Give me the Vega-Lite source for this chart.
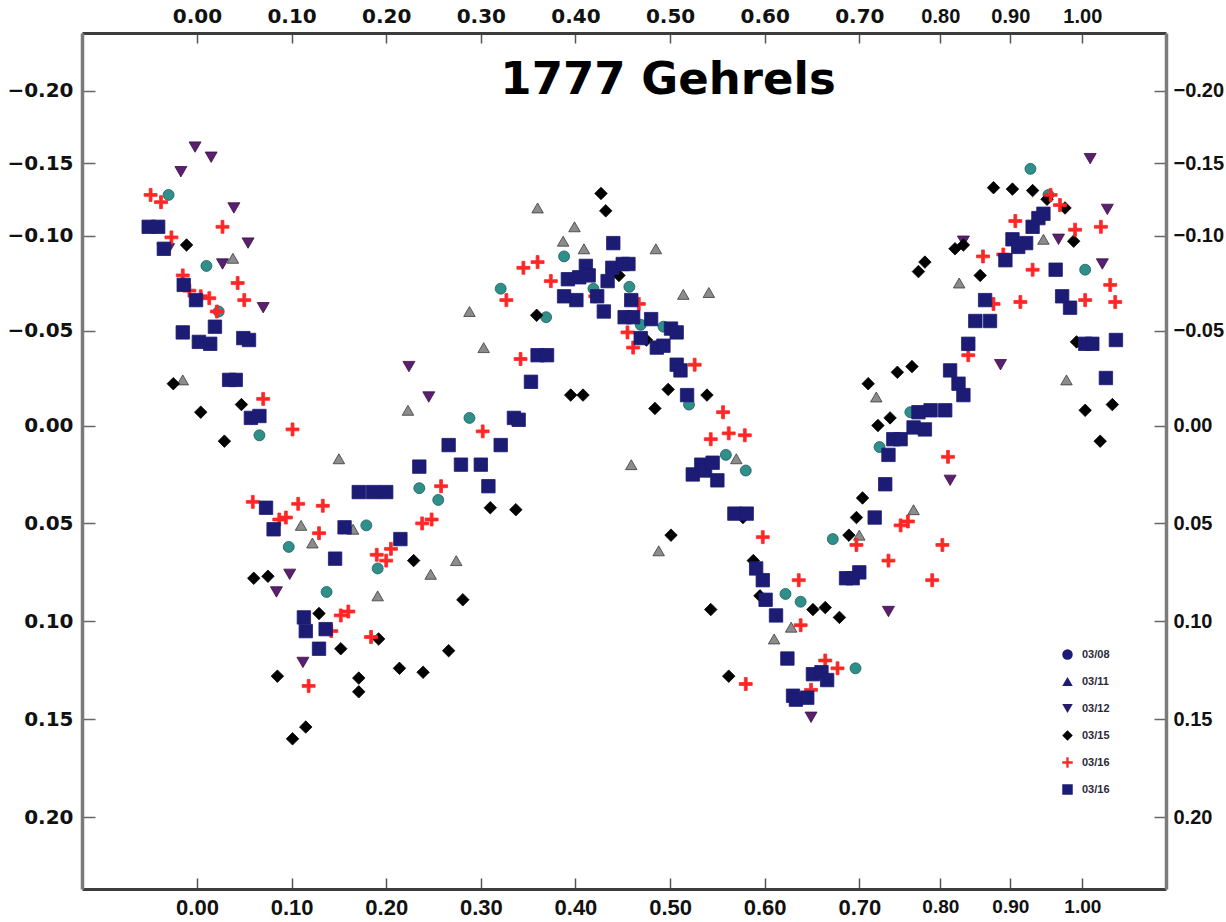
{
"$schema":"https://vega.github.io/schema/vega-lite/v6.json",
"autosize":"none",
"width":1084,"height":856,
"padding":{"left":82,"top":33,"right":60,"bottom":33},
"background":"white",
"config":{"view":{"stroke":null}},
"title":{"text":"1777 Gehrels","font":"DejaVu Sans","fontWeight":"bold","fontSize":45,"color":"#000","anchor":"middle","frame":"group","dx":44,"offset":-97},
"datasets":{"pts":[
{"night":"03/08","phase":-0.030,"mag":-0.128},{"night":"03/08","phase":0.010,"mag":-0.084},{"night":"03/08","phase":0.023,"mag":-0.060},{"night":"03/08","phase":0.066,"mag":0.005},{"night":"03/08","phase":0.097,"mag":0.062},{"night":"03/08","phase":0.137,"mag":0.085},{"night":"03/08","phase":0.179,"mag":0.051},{"night":"03/08","phase":0.191,"mag":0.073},{"night":"03/08","phase":0.235,"mag":0.032},{"night":"03/08","phase":0.255,"mag":0.038},{"night":"03/08","phase":0.288,"mag":-0.004},{"night":"03/08","phase":0.321,"mag":-0.072},{"night":"03/08","phase":0.369,"mag":-0.057},{"night":"03/08","phase":0.388,"mag":-0.089},{"night":"03/08","phase":0.419,"mag":-0.072},{"night":"03/08","phase":0.457,"mag":-0.073},{"night":"03/08","phase":0.469,"mag":-0.053},{"night":"03/08","phase":0.493,"mag":-0.052},{"night":"03/08","phase":0.520,"mag":-0.011},{"night":"03/08","phase":0.559,"mag":0.015},{"night":"03/08","phase":0.580,"mag":0.023},{"night":"03/08","phase":0.622,"mag":0.086},{"night":"03/08","phase":0.638,"mag":0.090},{"night":"03/08","phase":0.672,"mag":0.058},{"night":"03/08","phase":0.696,"mag":0.124},{"night":"03/08","phase":0.725,"mag":0.011},{"night":"03/08","phase":0.763,"mag":-0.007},{"night":"03/08","phase":0.928,"mag":-0.146},{"night":"03/08","phase":0.953,"mag":-0.128},{"night":"03/08","phase":1.004,"mag":-0.082},
{"night":"03/11","phase":-0.015,"mag":-0.024},{"night":"03/11","phase":0.038,"mag":-0.088},{"night":"03/11","phase":0.110,"mag":0.051},{"night":"03/11","phase":0.122,"mag":0.060},{"night":"03/11","phase":0.150,"mag":0.017},{"night":"03/11","phase":0.165,"mag":0.053},{"night":"03/11","phase":0.191,"mag":0.087},{"night":"03/11","phase":0.223,"mag":-0.008},{"night":"03/11","phase":0.247,"mag":0.076},{"night":"03/11","phase":0.274,"mag":0.069},{"night":"03/11","phase":0.288,"mag":-0.060},{"night":"03/11","phase":0.303,"mag":-0.041},{"night":"03/11","phase":0.360,"mag":-0.119},{"night":"03/11","phase":0.387,"mag":-0.097},{"night":"03/11","phase":0.399,"mag":-0.106},{"night":"03/11","phase":0.409,"mag":-0.093},{"night":"03/11","phase":0.459,"mag":0.020},{"night":"03/11","phase":0.485,"mag":-0.093},{"night":"03/11","phase":0.488,"mag":0.064},{"night":"03/11","phase":0.514,"mag":-0.069},{"night":"03/11","phase":0.541,"mag":-0.070},{"night":"03/11","phase":0.570,"mag":0.017},{"night":"03/11","phase":0.610,"mag":0.109},{"night":"03/11","phase":0.628,"mag":0.103},{"night":"03/11","phase":0.700,"mag":0.056},{"night":"03/11","phase":0.721,"mag":-0.015},{"night":"03/11","phase":0.767,"mag":0.043},{"night":"03/11","phase":0.827,"mag":-0.075},{"night":"03/11","phase":0.946,"mag":-0.098},{"night":"03/11","phase":0.978,"mag":-0.024},
{"night":"03/12","phase":-0.036,"mag":-0.093},{"night":"03/12","phase":-0.030,"mag":-0.093},{"night":"03/12","phase":-0.017,"mag":-0.144},{"night":"03/12","phase":-0.002,"mag":-0.161},{"night":"03/12","phase":0.015,"mag":-0.154},{"night":"03/12","phase":0.039,"mag":-0.119},{"night":"03/12","phase":0.027,"mag":-0.085},{"night":"03/12","phase":0.054,"mag":-0.096},{"night":"03/12","phase":0.070,"mag":-0.062},{"night":"03/12","phase":0.084,"mag":0.085},{"night":"03/12","phase":0.098,"mag":0.076},{"night":"03/12","phase":0.112,"mag":0.121},{"night":"03/12","phase":0.224,"mag":-0.031},{"night":"03/12","phase":0.245,"mag":-0.015},{"night":"03/12","phase":0.649,"mag":0.149},{"night":"03/12","phase":0.736,"mag":0.095},{"night":"03/12","phase":0.814,"mag":0.028},{"night":"03/12","phase":0.833,"mag":-0.097},{"night":"03/12","phase":0.886,"mag":-0.032},{"night":"03/12","phase":0.967,"mag":-0.098},{"night":"03/12","phase":1.011,"mag":-0.153},{"night":"03/12","phase":1.028,"mag":-0.085},{"night":"03/12","phase":1.035,"mag":-0.118},
{"night":"03/15","phase":-0.025,"mag":-0.022},{"night":"03/15","phase":-0.011,"mag":-0.095},{"night":"03/15","phase":0.004,"mag":-0.007},{"night":"03/15","phase":0.029,"mag":0.008},{"night":"03/15","phase":0.047,"mag":-0.011},{"night":"03/15","phase":0.060,"mag":0.078},{"night":"03/15","phase":0.075,"mag":0.077},{"night":"03/15","phase":0.085,"mag":0.128},{"night":"03/15","phase":0.101,"mag":0.160},{"night":"03/15","phase":0.115,"mag":0.154},{"night":"03/15","phase":0.129,"mag":0.096},{"night":"03/15","phase":0.152,"mag":0.114},{"night":"03/15","phase":0.171,"mag":0.129},{"night":"03/15","phase":0.171,"mag":0.136},{"night":"03/15","phase":0.192,"mag":0.109},{"night":"03/15","phase":0.214,"mag":0.124},{"night":"03/15","phase":0.229,"mag":0.069},{"night":"03/15","phase":0.239,"mag":0.126},{"night":"03/15","phase":0.266,"mag":0.115},{"night":"03/15","phase":0.281,"mag":0.089},{"night":"03/15","phase":0.310,"mag":0.042},{"night":"03/15","phase":0.337,"mag":0.043},{"night":"03/15","phase":0.359,"mag":-0.058},{"night":"03/15","phase":0.395,"mag":-0.016},{"night":"03/15","phase":0.408,"mag":-0.016},{"night":"03/15","phase":0.427,"mag":-0.129},{"night":"03/15","phase":0.432,"mag":-0.117},{"night":"03/15","phase":0.446,"mag":-0.079},{"night":"03/15","phase":0.475,"mag":-0.045},{"night":"03/15","phase":0.484,"mag":-0.009},{"night":"03/15","phase":0.498,"mag":-0.019},{"night":"03/15","phase":0.501,"mag":0.056},{"night":"03/15","phase":0.539,"mag":-0.016},{"night":"03/15","phase":0.543,"mag":0.094},{"night":"03/15","phase":0.562,"mag":0.128},{"night":"03/15","phase":0.577,"mag":0.047},{"night":"03/15","phase":0.588,"mag":0.069},{"night":"03/15","phase":0.595,"mag":0.087},{"night":"03/15","phase":0.651,"mag":0.094},{"night":"03/15","phase":0.664,"mag":0.093},{"night":"03/15","phase":0.679,"mag":0.098},{"night":"03/15","phase":0.689,"mag":0.056},{"night":"03/15","phase":0.697,"mag":0.047},{"night":"03/15","phase":0.704,"mag":0.037},{"night":"03/15","phase":0.711,"mag":-0.022},{"night":"03/15","phase":0.723,"mag":0.000},{"night":"03/15","phase":0.738,"mag":-0.004},{"night":"03/15","phase":0.747,"mag":-0.028},{"night":"03/15","phase":0.765,"mag":-0.031},{"night":"03/15","phase":0.773,"mag":-0.081},{"night":"03/15","phase":0.781,"mag":-0.086},{"night":"03/15","phase":0.821,"mag":-0.093},{"night":"03/15","phase":0.833,"mag":-0.095},{"night":"03/15","phase":0.857,"mag":-0.079},{"night":"03/15","phase":0.876,"mag":-0.133},{"night":"03/15","phase":0.903,"mag":-0.132},{"night":"03/15","phase":0.931,"mag":-0.131},{"night":"03/15","phase":0.951,"mag":-0.125},{"night":"03/15","phase":0.976,"mag":-0.119},{"night":"03/15","phase":0.988,"mag":-0.097},{"night":"03/15","phase":0.992,"mag":-0.044},{"night":"03/15","phase":1.004,"mag":-0.008},{"night":"03/15","phase":1.025,"mag":0.008},{"night":"03/15","phase":1.042,"mag":-0.011},
{"night":"03/16 A","phase":-0.049,"mag":-0.128},{"night":"03/16 A","phase":-0.038,"mag":-0.123},{"night":"03/16 A","phase":-0.027,"mag":-0.099},{"night":"03/16 A","phase":-0.015,"mag":-0.079},{"night":"03/16 A","phase":-0.008,"mag":-0.071},{"night":"03/16 A","phase":0.004,"mag":-0.068},{"night":"03/16 A","phase":0.013,"mag":-0.067},{"night":"03/16 A","phase":0.021,"mag":-0.060},{"night":"03/16 A","phase":0.027,"mag":-0.106},{"night":"03/16 A","phase":0.043,"mag":-0.075},{"night":"03/16 A","phase":0.050,"mag":-0.066},{"night":"03/16 A","phase":0.070,"mag":-0.014},{"night":"03/16 A","phase":0.059,"mag":0.039},{"night":"03/16 A","phase":0.087,"mag":0.048},{"night":"03/16 A","phase":0.094,"mag":0.047},{"night":"03/16 A","phase":0.101,"mag":0.002},{"night":"03/16 A","phase":0.107,"mag":0.040},{"night":"03/16 A","phase":0.118,"mag":0.133},{"night":"03/16 A","phase":0.129,"mag":0.055},{"night":"03/16 A","phase":0.133,"mag":0.041},{"night":"03/16 A","phase":0.142,"mag":0.105},{"night":"03/16 A","phase":0.152,"mag":0.097},{"night":"03/16 A","phase":0.160,"mag":0.095},{"night":"03/16 A","phase":0.184,"mag":0.108},{"night":"03/16 A","phase":0.190,"mag":0.066},{"night":"03/16 A","phase":0.200,"mag":0.069},{"night":"03/16 A","phase":0.205,"mag":0.063},{"night":"03/16 A","phase":0.238,"mag":0.050},{"night":"03/16 A","phase":0.248,"mag":0.048},{"night":"03/16 A","phase":0.258,"mag":0.031},{"night":"03/16 A","phase":0.302,"mag":0.003},{"night":"03/16 A","phase":0.327,"mag":-0.066},{"night":"03/16 A","phase":0.342,"mag":-0.035},{"night":"03/16 A","phase":0.345,"mag":-0.083},{"night":"03/16 A","phase":0.360,"mag":-0.086},{"night":"03/16 A","phase":0.374,"mag":-0.076},{"night":"03/16 A","phase":0.421,"mag":-0.068},{"night":"03/16 A","phase":0.439,"mag":-0.082},{"night":"03/16 A","phase":0.455,"mag":-0.049},{"night":"03/16 A","phase":0.461,"mag":-0.041},{"night":"03/16 A","phase":0.467,"mag":-0.064},{"night":"03/16 A","phase":0.526,"mag":-0.032},{"night":"03/16 A","phase":0.543,"mag":0.007},{"night":"03/16 A","phase":0.556,"mag":-0.007},{"night":"03/16 A","phase":0.562,"mag":0.004},{"night":"03/16 A","phase":0.579,"mag":0.005},{"night":"03/16 A","phase":0.598,"mag":0.057},{"night":"03/16 A","phase":0.580,"mag":0.132},{"night":"03/16 A","phase":0.636,"mag":0.079},{"night":"03/16 A","phase":0.638,"mag":0.102},{"night":"03/16 A","phase":0.649,"mag":0.135},{"night":"03/16 A","phase":0.664,"mag":0.120},{"night":"03/16 A","phase":0.677,"mag":0.124},{"night":"03/16 A","phase":0.697,"mag":0.061},{"night":"03/16 A","phase":0.736,"mag":0.069},{"night":"03/16 A","phase":0.751,"mag":0.051},{"night":"03/16 A","phase":0.760,"mag":0.049},{"night":"03/16 A","phase":0.790,"mag":0.079},{"night":"03/16 A","phase":0.803,"mag":0.061},{"night":"03/16 A","phase":0.811,"mag":0.016},{"night":"03/16 A","phase":0.840,"mag":-0.037},{"night":"03/16 A","phase":0.861,"mag":-0.089},{"night":"03/16 A","phase":0.876,"mag":-0.064},{"night":"03/16 A","phase":0.890,"mag":-0.090},{"night":"03/16 A","phase":0.907,"mag":-0.110},{"night":"03/16 A","phase":0.914,"mag":-0.065},{"night":"03/16 A","phase":0.931,"mag":-0.082},{"night":"03/16 A","phase":0.956,"mag":-0.128},{"night":"03/16 A","phase":0.969,"mag":-0.121},{"night":"03/16 A","phase":0.990,"mag":-0.104},{"night":"03/16 A","phase":1.004,"mag":-0.066},{"night":"03/16 A","phase":1.026,"mag":-0.106},{"night":"03/16 A","phase":1.039,"mag":-0.074},{"night":"03/16 A","phase":1.046,"mag":-0.065},
{"night":"03/16 B","phase":-0.051,"mag":-0.106},{"night":"03/16 B","phase":-0.041,"mag":-0.106},{"night":"03/16 B","phase":-0.035,"mag":-0.093},{"night":"03/16 B","phase":-0.014,"mag":-0.074},{"night":"03/16 B","phase":-0.015,"mag":-0.049},{"night":"03/16 B","phase":-0.001,"mag":-0.066},{"night":"03/16 B","phase":0.002,"mag":-0.044},{"night":"03/16 B","phase":0.014,"mag":-0.043},{"night":"03/16 B","phase":0.019,"mag":-0.052},{"night":"03/16 B","phase":0.034,"mag":-0.024},{"night":"03/16 B","phase":0.041,"mag":-0.024},{"night":"03/16 B","phase":0.049,"mag":-0.046},{"night":"03/16 B","phase":0.055,"mag":-0.045},{"night":"03/16 B","phase":0.057,"mag":-0.004},{"night":"03/16 B","phase":0.066,"mag":-0.005},{"night":"03/16 B","phase":0.073,"mag":0.042},{"night":"03/16 B","phase":0.081,"mag":0.053},{"night":"03/16 B","phase":0.113,"mag":0.098},{"night":"03/16 B","phase":0.115,"mag":0.105},{"night":"03/16 B","phase":0.129,"mag":0.114},{"night":"03/16 B","phase":0.136,"mag":0.104},{"night":"03/16 B","phase":0.146,"mag":0.068},{"night":"03/16 B","phase":0.156,"mag":0.052},{"night":"03/16 B","phase":0.171,"mag":0.034},{"night":"03/16 B","phase":0.186,"mag":0.034},{"night":"03/16 B","phase":0.200,"mag":0.034},{"night":"03/16 B","phase":0.215,"mag":0.058},{"night":"03/16 B","phase":0.235,"mag":0.021},{"night":"03/16 B","phase":0.266,"mag":0.010},{"night":"03/16 B","phase":0.279,"mag":0.020},{"night":"03/16 B","phase":0.300,"mag":0.020},{"night":"03/16 B","phase":0.308,"mag":0.031},{"night":"03/16 B","phase":0.321,"mag":0.010},{"night":"03/16 B","phase":0.335,"mag":-0.004},{"night":"03/16 B","phase":0.340,"mag":-0.003},{"night":"03/16 B","phase":0.353,"mag":-0.023},{"night":"03/16 B","phase":0.360,"mag":-0.037},{"night":"03/16 B","phase":0.370,"mag":-0.037},{"night":"03/16 B","phase":0.388,"mag":-0.068},{"night":"03/16 B","phase":0.392,"mag":-0.077},{"night":"03/16 B","phase":0.401,"mag":-0.066},{"night":"03/16 B","phase":0.404,"mag":-0.078},{"night":"03/16 B","phase":0.411,"mag":-0.084},{"night":"03/16 B","phase":0.414,"mag":-0.079},{"night":"03/16 B","phase":0.423,"mag":-0.068},{"night":"03/16 B","phase":0.430,"mag":-0.060},{"night":"03/16 B","phase":0.434,"mag":-0.076},{"night":"03/16 B","phase":0.440,"mag":-0.096},{"night":"03/16 B","phase":0.439,"mag":-0.083},{"night":"03/16 B","phase":0.450,"mag":-0.085},{"night":"03/16 B","phase":0.456,"mag":-0.085},{"night":"03/16 B","phase":0.459,"mag":-0.066},{"night":"03/16 B","phase":0.452,"mag":-0.057},{"night":"03/16 B","phase":0.461,"mag":-0.057},{"night":"03/16 B","phase":0.469,"mag":-0.046},{"night":"03/16 B","phase":0.480,"mag":-0.056},{"night":"03/16 B","phase":0.486,"mag":-0.041},{"night":"03/16 B","phase":0.493,"mag":-0.042},{"night":"03/16 B","phase":0.501,"mag":-0.051},{"night":"03/16 B","phase":0.507,"mag":-0.049},{"night":"03/16 B","phase":0.507,"mag":-0.032},{"night":"03/16 B","phase":0.511,"mag":-0.029},{"night":"03/16 B","phase":0.518,"mag":-0.016},{"night":"03/16 B","phase":0.524,"mag":0.025},{"night":"03/16 B","phase":0.533,"mag":0.020},{"night":"03/16 B","phase":0.537,"mag":0.023},{"night":"03/16 B","phase":0.545,"mag":0.019},{"night":"03/16 B","phase":0.550,"mag":0.028},{"night":"03/16 B","phase":0.568,"mag":0.045},{"night":"03/16 B","phase":0.581,"mag":0.045},{"night":"03/16 B","phase":0.591,"mag":0.073},{"night":"03/16 B","phase":0.598,"mag":0.079},{"night":"03/16 B","phase":0.601,"mag":0.089},{"night":"03/16 B","phase":0.612,"mag":0.097},{"night":"03/16 B","phase":0.624,"mag":0.119},{"night":"03/16 B","phase":0.630,"mag":0.138},{"night":"03/16 B","phase":0.633,"mag":0.140},{"night":"03/16 B","phase":0.645,"mag":0.139},{"night":"03/16 B","phase":0.651,"mag":0.127},{"night":"03/16 B","phase":0.660,"mag":0.126},{"night":"03/16 B","phase":0.666,"mag":0.130},{"night":"03/16 B","phase":0.686,"mag":0.078},{"night":"03/16 B","phase":0.693,"mag":0.078},{"night":"03/16 B","phase":0.700,"mag":0.075},{"night":"03/16 B","phase":0.719,"mag":0.047},{"night":"03/16 B","phase":0.732,"mag":0.030},{"night":"03/16 B","phase":0.736,"mag":0.015},{"night":"03/16 B","phase":0.742,"mag":0.007},{"night":"03/16 B","phase":0.751,"mag":0.007},{"night":"03/16 B","phase":0.767,"mag":0.001},{"night":"03/16 B","phase":0.773,"mag":-0.007},{"night":"03/16 B","phase":0.781,"mag":0.002},{"night":"03/16 B","phase":0.788,"mag":-0.008},{"night":"03/16 B","phase":0.807,"mag":-0.008},{"night":"03/16 B","phase":0.814,"mag":-0.029},{"night":"03/16 B","phase":0.826,"mag":-0.022},{"night":"03/16 B","phase":0.833,"mag":-0.016},{"night":"03/16 B","phase":0.840,"mag":-0.043},{"night":"03/16 B","phase":0.850,"mag":-0.055},{"night":"03/16 B","phase":0.864,"mag":-0.066},{"night":"03/16 B","phase":0.871,"mag":-0.055},{"night":"03/16 B","phase":0.893,"mag":-0.087},{"night":"03/16 B","phase":0.903,"mag":-0.098},{"night":"03/16 B","phase":0.911,"mag":-0.094},{"night":"03/16 B","phase":0.922,"mag":-0.096},{"night":"03/16 B","phase":0.931,"mag":-0.106},{"night":"03/16 B","phase":0.939,"mag":-0.112},{"night":"03/16 B","phase":0.946,"mag":-0.115},{"night":"03/16 B","phase":0.963,"mag":-0.082},{"night":"03/16 B","phase":0.972,"mag":-0.068},{"night":"03/16 B","phase":0.983,"mag":-0.062},{"night":"03/16 B","phase":1.004,"mag":-0.043},{"night":"03/16 B","phase":1.014,"mag":-0.043},{"night":"03/16 B","phase":1.033,"mag":-0.025},{"night":"03/16 B","phase":1.047,"mag":-0.045}
]},
"data":{"name":"pts"},
"layer":[
{"mark":{"type":"point","filled":true,"opacity":1,"strokeWidth":0.8},
 "encoding":{
  "x":{"field":"phase","type":"quantitative","scale":{"domain":[-0.1215,0.7,0.8,0.9,1.0,1.117],"range":[0,777.3,858.3,928.3,1000.3,1084],"nice":false,"zero":false},
   "axis":{"orient":"bottom","title":null,"values":[0,0.1,0.2,0.3,0.4,0.5,0.6,0.7,0.8,0.9,1.0],"format":".2f","grid":false,
    "labelFont":"Liberation Sans","labelFontWeight":"bold","labelFontSize":{"condition":{"test":"datum.value > 0.75","value":19},"value":22},"labelColor":"#111",
    "domainColor":"#3c3c3c","domainWidth":3,"tickColor":"#555","tickWidth":1.5,"tickSize":-11,"labelPadding":19,"labelFlush":false,"labelOverlap":false}},
  "y":{"field":"mag","type":"quantitative","scale":{"domain":[-0.2397,-0.1,0,0.2367],"range":[0,202.5,392.5,856],"nice":false,"zero":false},
   "axis":{"orient":"left","title":null,"values":[-0.2,-0.15,-0.1,-0.05,0,0.05,0.1,0.15,0.2],"format":".2f","grid":false,
    "labelFont":"DejaVu Sans","labelFontWeight":"bold","labelFontSize":20,"labelColor":"#111",
    "domainColor":"#7a7a7a","domainWidth":3.5,"tickColor":"#666","tickWidth":1.5,"tickSize":-13,"labelPadding":22,"labelFlush":false,"labelOverlap":false}},
  "color":{"field":"night","type":"nominal","scale":{"domain":["03/08","03/11","03/12","03/15","03/16 A","03/16 B"],"range":["#2f8f8a","#8c8c8c","#5a1f6e","#000000","#ff2626","#1c1c74"]},"legend":null},
  "shape":{"field":"night","type":"nominal","scale":{"domain":["03/08","03/11","03/12","03/15","03/16 A","03/16 B"],"range":["circle","triangle-up","triangle-down","diamond","M-0.22,-1H0.22V-0.22H1V0.22H0.22V1H-0.22V0.22H-1V-0.22H-0.22Z","square"]},"legend":null},
  "size":{"field":"night","type":"nominal","scale":{"domain":["03/08","03/11","03/12","03/15","03/16 A","03/16 B"],"range":[120,180,170,140,200,170]},"legend":null},
  "stroke":{"field":"night","type":"nominal","scale":{"domain":["03/08","03/11","03/12","03/15","03/16 A","03/16 B"],"range":["#1d5c5a","#3a3a3a","#3a1048","#000000","#ff2626","#1c1c74"]},"legend":null}
 }},
{"mark":{"type":"point","filled":true,"opacity":0},
 "encoding":{
  "x":{"field":"phase","type":"quantitative","scale":{"domain":[-0.1215,0.7,0.8,0.9,1.0,1.117],"range":[0,777.3,858.3,928.3,1000.3,1084],"nice":false,"zero":false},
   "axis":{"orient":"top","title":null,"values":[0,0.1,0.2,0.3,0.4,0.5,0.6,0.7,0.8,0.9,1.0],"format":".2f","grid":false,
    "labelFont":{"condition":{"test":"datum.value > 0.75","value":"Liberation Sans"},"value":"DejaVu Sans"},"labelFontWeight":"bold","labelFontSize":20,"labelColor":"#111",
    "domainColor":"#3c3c3c","domainWidth":3,"tickColor":"#555","tickWidth":1.5,"tickSize":-10,"labelPadding":17,"labelFlush":false,"labelOverlap":false}},
  "y":{"field":"mag","type":"quantitative","scale":{"domain":[-0.2397,-0.1,0,0.2367],"range":[0,202.5,392.5,856],"nice":false,"zero":false},
   "axis":{"orient":"right","title":null,"values":[-0.2,-0.15,-0.1,-0.05,0,0.05,0.1,0.15,0.2],"format":".2f","grid":false,
    "labelFont":"Liberation Sans","labelFontWeight":"bold","labelFontSize":20,"labelColor":"#111",
    "domainColor":"#7a7a7a","domainWidth":3.5,"tickColor":"#666","tickWidth":1.5,"tickSize":-12,"labelPadding":19,"labelFlush":false,"labelOverlap":false}},
  "color":{"field":"night","type":"nominal","scale":{"domain":["03/08","03/11","03/12","03/15","03/16 A","03/16 B"],"range":["#1c1c74","#1c1c74","#2a1a6e","#000000","#ff2626","#1c1c74"]},
   "legend":{"title":null,"orient":"none","legendX":980,"legendY":616,"padding":0,"rowPadding":15,"symbolSize":110,"symbolOpacity":1,"symbolStrokeWidth":0,"labelFont":"Liberation Sans","labelFontSize":11,"labelFontWeight":"bold","labelColor":"#2a2a3a","labelOffset":9,
    "labelExpr":"substring(datum.label,0,5)"}},
  "shape":{"field":"night","type":"nominal","scale":{"domain":["03/08","03/11","03/12","03/15","03/16 A","03/16 B"],"range":["circle","triangle-up","triangle-down","diamond","M-0.22,-1H0.22V-0.22H1V0.22H0.22V1H-0.22V0.22H-1V-0.22H-0.22Z","square"]},
   "legend":{"title":null,"orient":"none","legendX":980,"legendY":616,"padding":0,"rowPadding":15,"symbolSize":110,"symbolOpacity":1,"symbolStrokeWidth":0,"labelFont":"Liberation Sans","labelFontSize":11,"labelFontWeight":"bold","labelColor":"#2a2a3a","labelOffset":9,
    "labelExpr":"substring(datum.label,0,5)"}}
 }}
],
"resolve":{"axis":{"x":"independent","y":"independent"},"scale":{"color":"independent","shape":"independent"}}
}
